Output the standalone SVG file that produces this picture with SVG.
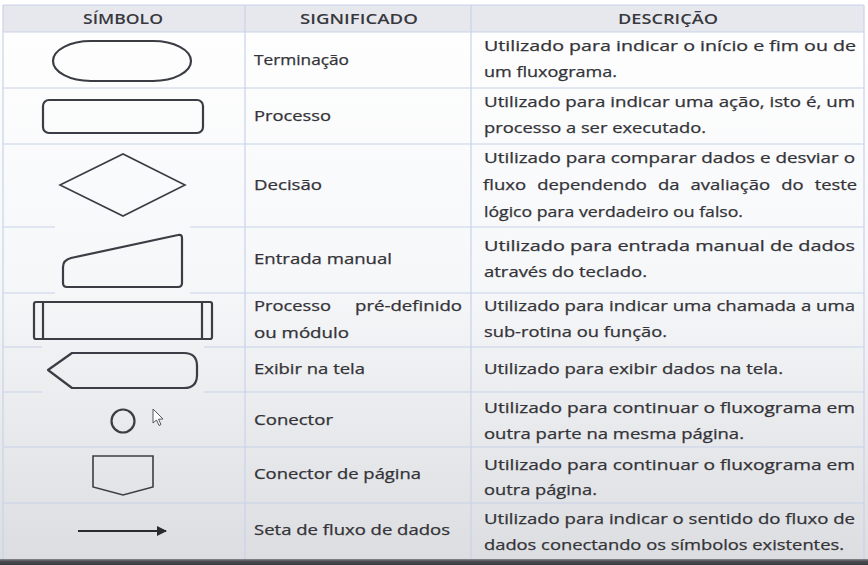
<svg xmlns="http://www.w3.org/2000/svg" width="868" height="565" viewBox="0 0 868 565">
<defs>
<linearGradient id="bg" x1="0" y1="0" x2="0" y2="1">
<stop offset="0" stop-color="#ffffff"/>
<stop offset="0.5" stop-color="#f6f7f9"/>
<stop offset="1" stop-color="#dcdde0"/>
</linearGradient>
<linearGradient id="shadow" x1="0" y1="0" x2="0" y2="1">
<stop offset="0" stop-color="#8a8b90"/>
<stop offset="0.4" stop-color="#4a4b50"/>
<stop offset="1" stop-color="#3a3b40"/>
</linearGradient>
<marker id="arrow" viewBox="0 0 10 10" refX="9" refY="5" markerWidth="5" markerHeight="5" orient="auto" markerUnits="strokeWidth">
<path d="M0,0 L10,5 L0,10 Z" fill="#2a2a2e"/>
</marker>
<style>
.grid{stroke:#c8d2ea;stroke-width:1.2;fill:none}
.hd{font-family:"Open Sans","Liberation Sans",sans-serif;font-size:14px;font-weight:600;fill:#38383d}
.mid{font-family:"Open Sans","Liberation Sans",sans-serif;font-size:14px;fill:#333338;stroke:#333338;stroke-width:0.25}
.ds{font-family:"Open Sans","Liberation Sans",sans-serif;font-size:14.5px;fill:#333338;stroke:#333338;stroke-width:0.25}
.sym{fill:none;stroke:#3c3d44;stroke-width:2.2;stroke-linejoin:round}
.thin{fill:none;stroke:#3c3d44;stroke-width:1.6;stroke-linejoin:miter}
</style>
</defs>
<rect x="0" y="0" width="868" height="565" fill="url(#bg)"/>
<rect x="3" y="5" width="861" height="27" fill="#e6e8ee"/>
<rect x="0" y="559" width="868" height="6" fill="url(#shadow)"/>

<g id="grid">
<line class="grid" x1="3" y1="5" x2="864" y2="5"/>
<line class="grid" x1="3" y1="32" x2="864" y2="32"/>
<line class="grid" x1="3" y1="88" x2="864" y2="88"/>
<line class="grid" x1="3" y1="144" x2="864" y2="144"/>
<line class="grid" x1="3" y1="227" x2="55" y2="227"/>
<line class="grid" x1="190" y1="227" x2="864" y2="227"/>
<line class="grid" x1="3" y1="293" x2="55" y2="293"/>
<line class="grid" x1="190" y1="293" x2="864" y2="293"/>
<line class="grid" x1="3" y1="347" x2="42" y2="347"/>
<line class="grid" x1="204" y1="347" x2="864" y2="347"/>
<line class="grid" x1="3" y1="392" x2="42" y2="392"/>
<line class="grid" x1="204" y1="392" x2="864" y2="392"/>
<line class="grid" x1="3" y1="447" x2="864" y2="447"/>
<line class="grid" x1="3" y1="503" x2="864" y2="503"/>
<line class="grid" x1="3" y1="5" x2="3" y2="559"/>
<line class="grid" x1="245" y1="5" x2="245" y2="559"/>
<line class="grid" x1="471" y1="5" x2="471" y2="559"/>
<line class="grid" x1="864" y1="5" x2="864" y2="559"/>
</g>

<g id="header">
<text class="hd" x="83" y="24" textLength="80" lengthAdjust="spacingAndGlyphs">SÍMBOLO</text>
<text class="hd" x="300" y="24" textLength="118" lengthAdjust="spacingAndGlyphs">SIGNIFICADO</text>
<text class="hd" x="618" y="24" textLength="100" lengthAdjust="spacingAndGlyphs">DESCRIÇÃO</text>
</g>

<g id="terminacao">
<rect class="sym" x="53" y="41" width="138" height="40" rx="38" ry="20"/>
<text class="mid" x="254" y="65" textLength="95" lengthAdjust="spacingAndGlyphs">Terminação</text>
<text class="ds" x="484" y="51" textLength="372" lengthAdjust="spacingAndGlyphs">Utilizado para indicar o início e fim ou de</text>
<text class="ds" x="484" y="77" textLength="133" lengthAdjust="spacingAndGlyphs">um fluxograma.</text>
</g>

<g id="processo">
<rect class="sym" x="43" y="100" width="160" height="33" rx="6"/>
<text class="mid" x="254" y="121" textLength="77" lengthAdjust="spacingAndGlyphs">Processo</text>
<text class="ds" x="484" y="107" textLength="371" lengthAdjust="spacingAndGlyphs">Utilizado para indicar uma ação, isto é, um</text>
<text class="ds" x="484" y="133" textLength="222" lengthAdjust="spacingAndGlyphs">processo a ser executado.</text>
</g>

<g id="decisao">
<path class="thin" d="M60,185 L123,154 L185,185 L123,216 Z"/>
<text class="mid" x="254" y="190" textLength="68" lengthAdjust="spacingAndGlyphs">Decisão</text>
<text class="ds" x="484" y="163" textLength="371" lengthAdjust="spacingAndGlyphs">Utilizado para comparar dados e desviar o</text>
<text class="ds" x="483" y="190" textLength="43" lengthAdjust="spacingAndGlyphs">fluxo</text>
<text class="ds" x="537.2" y="190" textLength="109.5" lengthAdjust="spacingAndGlyphs">dependendo</text>
<text class="ds" x="657.9" y="190" textLength="21.5" lengthAdjust="spacingAndGlyphs">da</text>
<text class="ds" x="690.6" y="190" textLength="79.4" lengthAdjust="spacingAndGlyphs">avaliação</text>
<text class="ds" x="781.2" y="190" textLength="22.3" lengthAdjust="spacingAndGlyphs">do</text>
<text class="ds" x="814.7" y="190" textLength="42.3" lengthAdjust="spacingAndGlyphs">teste</text>
<text class="ds" x="484" y="217" textLength="259" lengthAdjust="spacingAndGlyphs">lógico para verdadeiro ou falso.</text>
</g>

<g id="entrada-manual">
<path class="sym" d="M67,287 L178,287 Q182,287 182,283 L182,238 Q182,234 178,235 L71,258 Q63,260 63,267 L63,283 Q63,287 67,287 Z"/>
<text class="mid" x="254" y="264" textLength="138" lengthAdjust="spacingAndGlyphs">Entrada manual</text>
<text class="ds" x="484" y="251" textLength="371" lengthAdjust="spacingAndGlyphs">Utilizado para entrada manual de dados</text>
<text class="ds" x="484" y="277" textLength="163" lengthAdjust="spacingAndGlyphs">através do teclado.</text>
</g>

<g id="processo-predefinido">
<rect class="sym" x="34" y="302" width="178" height="37" rx="2"/>
<line class="sym" x1="43" y1="302" x2="43" y2="339"/>
<line class="sym" x1="202" y1="302" x2="202" y2="339"/>
<text class="mid" x="254" y="311" textLength="77" lengthAdjust="spacingAndGlyphs">Processo</text>
<text class="mid" x="355" y="311" textLength="107" lengthAdjust="spacingAndGlyphs">pré-definido</text>
<text class="mid" x="254" y="338" textLength="95" lengthAdjust="spacingAndGlyphs">ou módulo</text>
<text class="ds" x="484" y="311" textLength="371" lengthAdjust="spacingAndGlyphs">Utilizado para indicar uma chamada a uma</text>
<text class="ds" x="484" y="337" textLength="183" lengthAdjust="spacingAndGlyphs">sub-rotina ou função.</text>
</g>

<g id="exibir">
<path class="sym" d="M48,370 L72,353 L184,353 Q197,353 197,366 L197,375 Q197,388 184,388 L72,388 Z"/>
<text class="mid" x="254" y="374" textLength="111" lengthAdjust="spacingAndGlyphs">Exibir na tela</text>
<text class="ds" x="484" y="374" textLength="299" lengthAdjust="spacingAndGlyphs">Utilizado para exibir dados na tela.</text>
</g>

<g id="conector">
<circle class="sym" cx="123" cy="421" r="11.5"/>
<path d="M153,409 L153,423 L156.5,420 L159,425.5 L161,424.5 L158.5,419.2 L163,419 Z" fill="#ffffff" stroke="#55565c" stroke-width="1"/>
<text class="mid" x="254" y="425" textLength="79" lengthAdjust="spacingAndGlyphs">Conector</text>
<text class="ds" x="484" y="413" textLength="371" lengthAdjust="spacingAndGlyphs">Utilizado para continuar o fluxograma em</text>
<text class="ds" x="484" y="439" textLength="260" lengthAdjust="spacingAndGlyphs">outra parte na mesma página.</text>
</g>

<g id="conector-pagina">
<path class="thin" d="M93,456 L153,456 L153,487 L123,495 L93,487 Z"/>
<text class="mid" x="254" y="479" textLength="167" lengthAdjust="spacingAndGlyphs">Conector de página</text>
<text class="ds" x="484" y="470" textLength="371" lengthAdjust="spacingAndGlyphs">Utilizado para continuar o fluxograma em</text>
<text class="ds" x="484" y="495" textLength="113" lengthAdjust="spacingAndGlyphs">outra página.</text>
</g>

<g id="connectors">
<line x1="78" y1="531" x2="166" y2="531" stroke="#2a2a2e" stroke-width="2" marker-end="url(#arrow)"/>
</g>

<g id="seta">
<text class="mid" x="254" y="535" textLength="196" lengthAdjust="spacingAndGlyphs">Seta de fluxo de dados</text>
<text class="ds" x="484" y="524" textLength="371" lengthAdjust="spacingAndGlyphs">Utilizado para indicar o sentido do fluxo de</text>
<text class="ds" x="484" y="550" textLength="360" lengthAdjust="spacingAndGlyphs">dados conectando os símbolos existentes.</text>
</g>
</svg>
